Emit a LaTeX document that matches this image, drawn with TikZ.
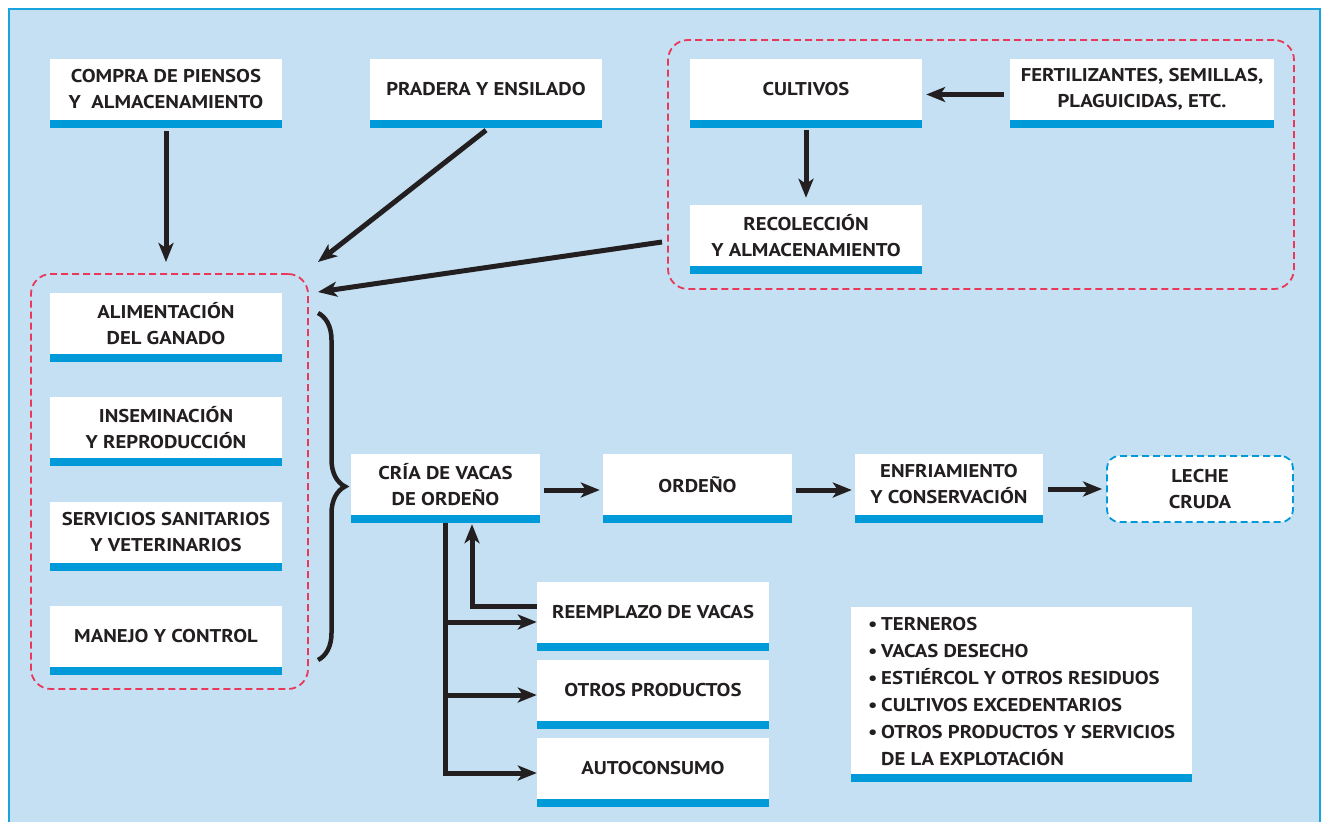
\documentclass[tikz,border=0pt]{standalone}
\usepackage{fontspec}
\setmainfont{PT Sans}
\newfontfamily\boxfont[FakeStretch=1.12]{PT Sans}
\usetikzlibrary{arrows.meta,decorations.pathreplacing}
\definecolor{bgblue}{HTML}{C5E0F2}
\definecolor{framblue}{HTML}{1AA3DC}
\definecolor{barblue}{HTML}{009AD8}
\definecolor{redd}{HTML}{E8395B}
\definecolor{ink}{HTML}{231F20}
\tikzset{
  bx/.style={fill=white, minimum width=#1, minimum height=61pt, inner sep=0pt, align=center, text=ink, font=\boxfont\bfseries\fontsize{18.5}{26}\selectfont},
  bx/.default=232pt,
  arr/.style={draw=ink, line width=5pt, -{Stealth[length=19pt,width=15pt,inset=5pt]}},
  grp/.style={draw=redd, dash pattern=on 7pt off 4pt, line width=1.8pt, rounded corners=20pt, inner sep=0pt},
  endbox/.style={draw=barblue, fill=white, dash pattern=on 7pt off 4pt, line width=1.8pt, rounded corners=12pt, minimum width=186pt, minimum height=66pt, inner sep=0pt, align=center, text=ink, font=\boxfont\bfseries\fontsize{18.5}{26}\selectfont},
}
\newcommand{\bul}{\makebox[13pt][l]{•}}
\begin{document}
\begin{tikzpicture}[x=1pt,y=-1pt]
\useasboundingbox (0,0) rectangle (1323,822);
\fill[white] (0,0) rectangle (1323,822);
\filldraw[fill=bgblue, draw=framblue, line width=1.5pt] (8.75,8.75) rectangle (1320,840);

% group frames
\node[grp, minimum width=277pt, minimum height=415pt] (grpL) at (169.5,481.5) {};
\node[grp, minimum width=626pt, minimum height=249pt] (grpR) at (981,164.5) {};

% boxes
\node[bx] (compra) at (166,89.5) {COMPRA DE PIENSOS\\Y\ \ ALMACENAMIENTO};
\node[bx] (pradera) at (486,89.5) {PRADERA Y ENSILADO};
\node[bx] (cultivos) at (806,89.5) {CULTIVOS};
\node[bx=264pt] (fert) at (1142,89.5) {FERTILIZANTES, SEMILLAS,\\PLAGUICIDAS, ETC.};
\node[bx] (recol) at (806,235.5) {RECOLECCIÓN\\Y ALMACENAMIENTO};
\node[bx] (alim) at (166,323.5) {ALIMENTACIÓN\\DEL GANADO};
\node[bx] (insem) at (166,427.5) {INSEMINACIÓN\\Y REPRODUCCIÓN};
\node[bx] (serv) at (166,532.5) {SERVICIOS SANITARIOS\\Y VETERINARIOS};
\node[bx] (manejo) at (166,636.5) {MANEJO Y CONTROL};
\node[bx=189pt] (cria) at (445.5,484.5) {CRÍA DE VACAS\\DE ORDEÑO};
\node[bx=189pt] (ordeno) at (697.5,484.5) {ORDEÑO};
\node[bx=188pt] (enfr) at (949,484.5) {ENFRIAMIENTO\\Y CONSERVACIÓN};
\node[endbox] (leche) at (1200,489) {LECHE\\CRUDA};
\node[bx] (reemp) at (653,612.5) {REEMPLAZO DE VACAS};
\node[bx] (otros) at (653,690.5) {OTROS PRODUCTOS};
\node[bx] (auto) at (653,768.5) {AUTOCONSUMO};
\node[bx=341pt, minimum height=167pt] (bul) at (1021.5,690.5) {};
\node[anchor=west, inner sep=0pt, align=left, text=ink, font=\boxfont\bfseries\fontsize{18.5}{27}\selectfont] (bultxt) at (868,692)
  {\bul TERNEROS\\
   \bul VACAS DESECHO\\
   \bul ESTIÉRCOL Y OTROS RESIDUOS\\
   \bul CULTIVOS EXCEDENTARIOS\\
   \bul OTROS PRODUCTOS Y SERVICIOS\\
   \hspace*{13pt}DE LA EXPLOTACIÓN};

% blue bars
\foreach \n in {compra,pradera,cultivos,fert,recol,alim,insem,serv,manejo,cria,ordeno,enfr,reemp,otros,auto,bul}
  \fill[barblue] (\n.south west) rectangle ([yshift=-8pt]\n.south east);

% connectors
\coordinate (inA) at (166,262);
\coordinate (inB) at (318,262);
\coordinate (inC) at (318,292);
\coordinate (outR) at (662,242);
\draw[arr] ([yshift=-11pt]compra.south) -- (inA);
\draw[arr] ([yshift=-10pt]pradera.south) -- (inB);
\draw[arr] (outR) -- (inC);
\draw[arr] ([xshift=-6pt,yshift=-5pt]fert.west) -- ([xshift=4pt,yshift=-5pt]cultivos.east);
\draw[arr] ([yshift=-10pt]cultivos.south) -- ([yshift=7pt]recol.north);
\draw[arr] ([xshift=4pt,yshift=-5.5pt]cria.east) -- ([xshift=-3pt,yshift=-5.5pt]ordeno.west);
\draw[arr] ([xshift=4pt,yshift=-5.5pt]ordeno.east) -- ([xshift=-3pt,yshift=-5.5pt]enfr.west);
\draw[arr] ([xshift=5pt]enfr.east |- leche.west) -- ([xshift=-4pt]leche.west);
\draw[arr] ([yshift=-8pt]cria.south) |- ([yshift=-4.5pt]auto.west);
\draw[arr] ([yshift=-8pt]cria.south) |- ([yshift=-9.5pt]reemp.west);
\draw[arr] ([yshift=-8pt]cria.south) |- ([yshift=-4.5pt]otros.west);
\draw[arr] ([yshift=6.5pt]reemp.west) -| ([xshift=26.5pt,yshift=-9pt]cria.south);

% brace
\draw[ink, line width=4.5pt, decorate, decoration={brace, amplitude=27pt}] (318,313) -- (318,660);
\end{tikzpicture}
\end{document}
